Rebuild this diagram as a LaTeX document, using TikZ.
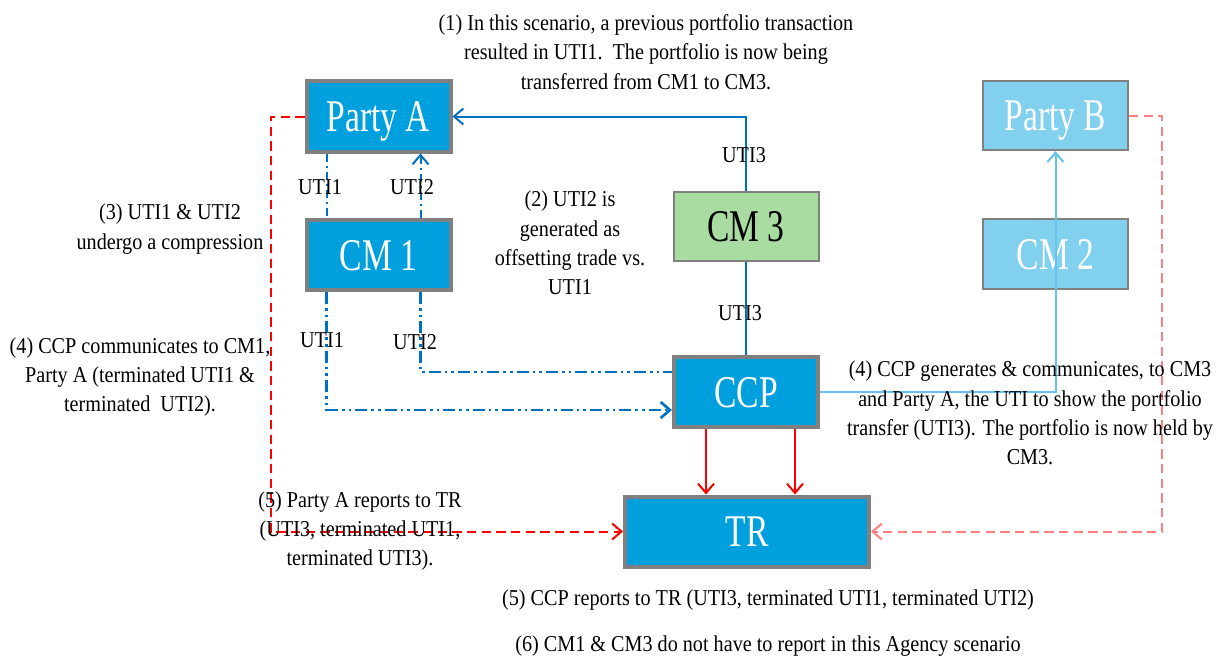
\documentclass[tikz,border=0pt]{standalone}
\usepackage{fontspec}
\setmainfont{Liberation Serif}[FakeStretch=0.89]
\newfontfamily\boxfont{Liberation Serif}[FakeStretch=0.74]
\usetikzlibrary{arrows.meta}
\definecolor{boxblue}{RGB}{0,160,222}
\definecolor{lineblue}{RGB}{0,112,192}
\definecolor{lightblue}{RGB}{128,208,238}
\definecolor{lightline}{RGB}{100,195,235}
\definecolor{boxgreen}{RGB}{168,220,160}
\definecolor{pinkred}{RGB}{255,128,128}
\definecolor{bordergray}{RGB}{128,128,128}
\tikzset{
  bigbox/.style={draw=bordergray, line width=3pt, fill=boxblue, text=white,
    font=\boxfont\fontsize{34}{36}\selectfont, inner sep=0pt,
    text height=22.5pt, text depth=0pt,
    minimum width=108pt, minimum height=52.5pt},
  thinbox/.style={draw=bordergray, line width=1.5pt, fill=lightblue, text=white,
    font=\boxfont\fontsize{34}{36}\selectfont, inner sep=0pt,
    text height=22.5pt, text depth=0pt,
    minimum width=108.75pt, minimum height=52pt},
  txt/.style={align=center, font=\fontsize{17}{22}\selectfont, inner sep=0pt},
  lbl/.style={font=\fontsize{17}{22}\selectfont, inner sep=0pt},
  blueline/.style={draw=lineblue, line width=1.5pt},
  dashdotline/.style={draw=lineblue, line width=1.5pt, dash pattern=on 6pt off 3pt on 1.5pt off 3pt},
  dashdotdotline/.style={draw=lineblue, line width=2pt, dash pattern=on 9pt off 3pt on 2pt off 3pt on 2pt off 3pt},
  barb/.style={-{Straight Barb[length=7pt,width=12pt]}},
}
\begin{document}
\begin{tikzpicture}[x=0.75pt,y=-0.75pt]
\path[use as bounding box] (0,0) rectangle (1220,660);

% boxes
\node[bigbox] (PartyA) at (378.5,116.5) {Party A};
\node[bigbox] (CM1) at (378.5,255) {CM 1};
\node[thinbox, fill=boxgreen, text=black] (CM3) at (746,226.5) {CM 3};
\node[thinbox] (PartyB) at (1055.5,115.5) {Party B};
\node[thinbox] (CM2) at (1055.5,254) {CM 2};
\node[bigbox] (CCP) at (746,392) {CCP};
\node[bigbox, minimum width=183pt] (TR) at (747,531.5) {TR};

% CM3 -> Party A
\draw[blueline, barb] (CM3.north) |- (PartyA.east);
\draw[blueline] (CM3.south) -- (CCP.north);
\node[lbl] (l3a) at (744,155) {UTI3};
\node[lbl] (l3b) at (740,313) {UTI3};

% Party A <-> CM1
\draw[dashdotline] ([xshift=16.5pt]PartyA.south west) -- ([xshift=16.5pt]CM1.north west);
\draw[dashdotline, barb] ([xshift=-24pt]CM1.north east) -- ([xshift=-24pt]PartyA.south east);
\node[lbl] (l1a) at (320,187) {UTI1};
\node[lbl] (l2a) at (412,187) {UTI2};

% CM1 -> CCP
\draw[dashdotdotline, barb] ([xshift=16.5pt]CM1.south west) |- ([yshift=-13.5pt]CCP.west);
\draw[dashdotdotline] ([xshift=-24pt]CM1.south east) |- ([yshift=15pt]CCP.west);
\node[lbl] (l1b) at (322,340) {UTI1};
\node[lbl] (l2b) at (415,342) {UTI2};

% CCP -> Party B
\draw[draw=lightline, line width=1.5pt, barb] (CCP.east) -| (PartyB.south);

% CCP -> TR
\draw[red, line width=1.5pt, barb] ([xshift=-30pt]CCP.south) -- ([xshift=-30pt]CCP.south |- TR.north);
\draw[red, line width=1.5pt, barb] ([xshift=36.75pt]CCP.south) -- ([xshift=36.75pt]CCP.south |- TR.north);

% Party A -> TR, Party B -> TR
\draw[red, line width=1.5pt, dash pattern=on 7pt off 4pt, barb] (PartyA.west) -- ++(-34,0) |- (TR.west);
\draw[pinkred, line width=1.5pt, dash pattern=on 7pt off 4pt, barb] (PartyB.east) -- ++(33,0) |- (TR.east);

% texts
\node[txt] (t1) at (646,52) {(1) In this scenario, a previous portfolio transaction\\resulted in UTI1.\ \ The portfolio is now being\\transferred from CM1 to CM3.};
\node[txt] (t3) at (170,229) {(3) UTI1 \& UTI2\\undergo a compression};
\node[txt] (t2) at (570,243) {(2) UTI2 is\\generated as\\offsetting trade vs.\\UTI1};
\node[txt] (t4a) at (140,377) {(4) CCP communicates to CM1,\\Party A (terminated UTI1 \&\\terminated\ \ UTI2).};
\node[txt] (t4b) at (1030,413) {(4) CCP generates \& communicates, to CM3\\and Party A, the UTI to show the portfolio\\transfer (UTI3). The portfolio is now held by\\CM3.};
\node[txt] (t5a) at (360,531) {(5) Party A reports to TR\\(UTI3, terminated UTI1,\\terminated UTI3).};
\node[txt] (t5b) at (768,600) {(5) CCP reports to TR (UTI3, terminated UTI1, terminated UTI2)};
\node[txt] (t6) at (768,646) {(6) CM1 \& CM3 do not have to report in this Agency scenario};
\end{tikzpicture}
\end{document}
